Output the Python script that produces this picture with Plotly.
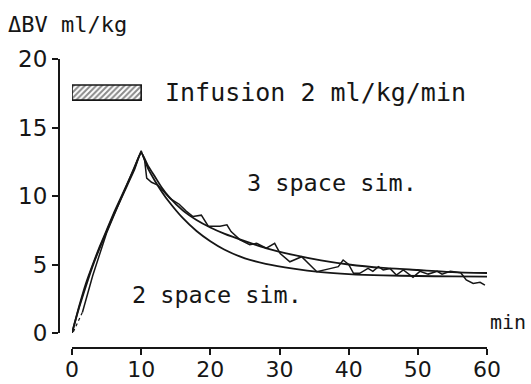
import plotly.graph_objects as go

# ---- data ----
t_2space = [0, 1, 2, 3, 4, 5, 6, 7, 8, 9, 10, 11, 12, 13, 14, 16, 18, 20, 22, 25, 28, 32, 36, 40, 45, 50, 55, 60]
v_2space = [0, 1.9, 3.6, 5.0, 6.3, 7.5, 8.7, 9.8, 10.9, 12.0, 13.15, 12.0, 11.1, 10.3, 9.6, 8.4, 7.45, 6.7, 6.1, 5.45, 5.05, 4.7, 4.45, 4.3, 4.2, 4.16, 4.13, 4.12]

t_3space = [0, 1, 2, 3, 4, 5, 6, 7, 8, 9, 10, 11, 12, 13, 14, 16, 18, 20, 22, 25, 28, 32, 36, 40, 45, 50, 55, 60]
v_3space = [0, 1.8, 3.4, 4.9, 6.2, 7.4, 8.6, 9.7, 10.8, 11.9, 13.15, 12.2, 11.4, 10.6, 9.95, 8.95, 8.25, 7.7, 7.25, 6.7, 6.2, 5.7, 5.3, 5.0, 4.75, 4.6, 4.45, 4.38]

t_meas = [1.5, 3, 5, 7, 9, 10, 10.5, 10.8, 11.5, 12.4, 14.2, 15.5, 16.5, 17.5, 18.7, 19.7, 21.4, 22.4, 23, 24.3, 25.7, 26.7, 28.1, 29.3, 30.1, 31.5, 33.2, 35.4, 37.3, 38.5, 39.2, 40, 40.7, 41.6, 42.8, 43.5, 44.3, 45, 46, 46.9, 47.9, 49.3, 50.3, 51.5, 52.8, 53.5, 54.7, 56.2, 57.0, 58, 59, 59.7]
v_meas = [1.5, 4.2, 7.3, 9.7, 12.0, 13.3, 12.6, 11.3, 11.0, 10.8, 9.8, 9.4, 8.9, 8.5, 8.6, 7.8, 7.8, 7.9, 7.4, 6.8, 6.45, 6.55, 6.2, 6.55, 5.8, 5.2, 5.57, 4.47, 4.7, 4.84, 5.33, 5.0, 4.36, 4.36, 4.72, 4.5, 4.84, 4.6, 4.7, 4.23, 4.6, 4.06, 4.5, 4.3, 4.5, 4.3, 4.5, 4.4, 3.87, 3.62, 3.7, 3.5]

t_lead = [0.2, 0.7, 1.1, 1.5]
v_lead = [0.1, 0.6, 1.0, 1.5]

infusion_start = [0]
infusion_end = [10]
infusion_level = [17.55]

x_ticks = [0, 10, 20, 30, 40, 50, 60]
y_ticks = [0, 5, 10, 15, 20]

FONT = "DejaVu Sans Mono"
TICK_FONT = "DejaVu Sans"
INK = "#161616"

W, H = 531, 384

fig = go.Figure()

fig.add_trace(go.Bar(
    y=infusion_level, x=[e - s for s, e in zip(infusion_start, infusion_end)], base=infusion_start,
    orientation="h", width=1.1,
    marker=dict(color="white", line=dict(color=INK, width=1.6),
                pattern=dict(shape="/", fgcolor=INK, bgcolor="white", size=4, solidity=0.5)),
    showlegend=False, hoverinfo="skip"))

fig.add_trace(go.Scatter(x=t_2space, y=v_2space, mode="lines",
                         line=dict(color=INK, width=1.8, shape="spline", smoothing=0.6),
                         showlegend=False, cliponaxis=False))
fig.add_trace(go.Scatter(x=t_3space, y=v_3space, mode="lines",
                         line=dict(color=INK, width=1.8, shape="spline", smoothing=0.6),
                         showlegend=False, cliponaxis=False))
fig.add_trace(go.Scatter(x=t_meas, y=v_meas, mode="lines",
                         line=dict(color=INK, width=1.5),
                         showlegend=False, cliponaxis=False))
fig.add_trace(go.Scatter(x=t_lead, y=v_lead, mode="lines",
                         line=dict(color=INK, width=1.2, dash="dot"),
                         showlegend=False, cliponaxis=False))

axis_common = dict(showline=True, linecolor=INK, linewidth=2, ticks="outside", ticklen=6,
                   tickwidth=2, tickcolor=INK, showgrid=False, zeroline=False,
                   automargin=False)

fig.update_layout(
    width=W, height=H, margin=dict(l=0, r=0, t=0, b=0, pad=0, autoexpand=False),
    paper_bgcolor="white", plot_bgcolor="white",
    xaxis=dict(domain=[72 / W, 487 / W], range=[0, 60], anchor="free", position=1 - 348 / H,
               tickvals=x_ticks, ticktext=[str(v) for v in x_ticks], ticklabelstandoff=-4,
               tickfont=dict(family=TICK_FONT, size=22, color=INK), **axis_common),
    yaxis=dict(domain=[1 - 333 / H, 1 - 59 / H], range=[0, 20], anchor="free", position=59 / W,
               tickvals=y_ticks, ticktext=[str(v) for v in y_ticks],
               tickfont=dict(family=TICK_FONT, size=23, color=INK), **axis_common),
    annotations=[
        dict(text="ΔBV ml/kg", xref="paper", yref="paper", x=6 / W, y=1 - 25 / H,
             xanchor="left", yanchor="middle", showarrow=False,
             font=dict(family=FONT, size=22, color=INK)),
        dict(text="Infusion 2 ml/kg/min", xref="x", yref="y", x=13.2, y=infusion_level[0],
             xanchor="left", yanchor="middle", showarrow=False,
             font=dict(family=FONT, size=25, color=INK)),
        dict(text="3 space sim.", xref="x", yref="y", x=25.0, y=10.95,
             xanchor="left", yanchor="middle", showarrow=False,
             font=dict(family=FONT, size=23.5, color=INK)),
        dict(text="2 space sim.", xref="x", yref="y", x=8.4, y=2.77,
             xanchor="left", yanchor="middle", showarrow=False,
             font=dict(family=FONT, size=23.5, color=INK)),
        dict(text="min", xref="paper", yref="paper", x=488 / W, y=1 - 322 / H,
             xanchor="left", yanchor="middle", showarrow=False,
             font=dict(family=FONT, size=20, color=INK)),
    ],
)

fig.write_html("out.html", config={"displayModeBar": False},
               post_script="document.body.style.margin='0';document.body.style.overflow='hidden';")
